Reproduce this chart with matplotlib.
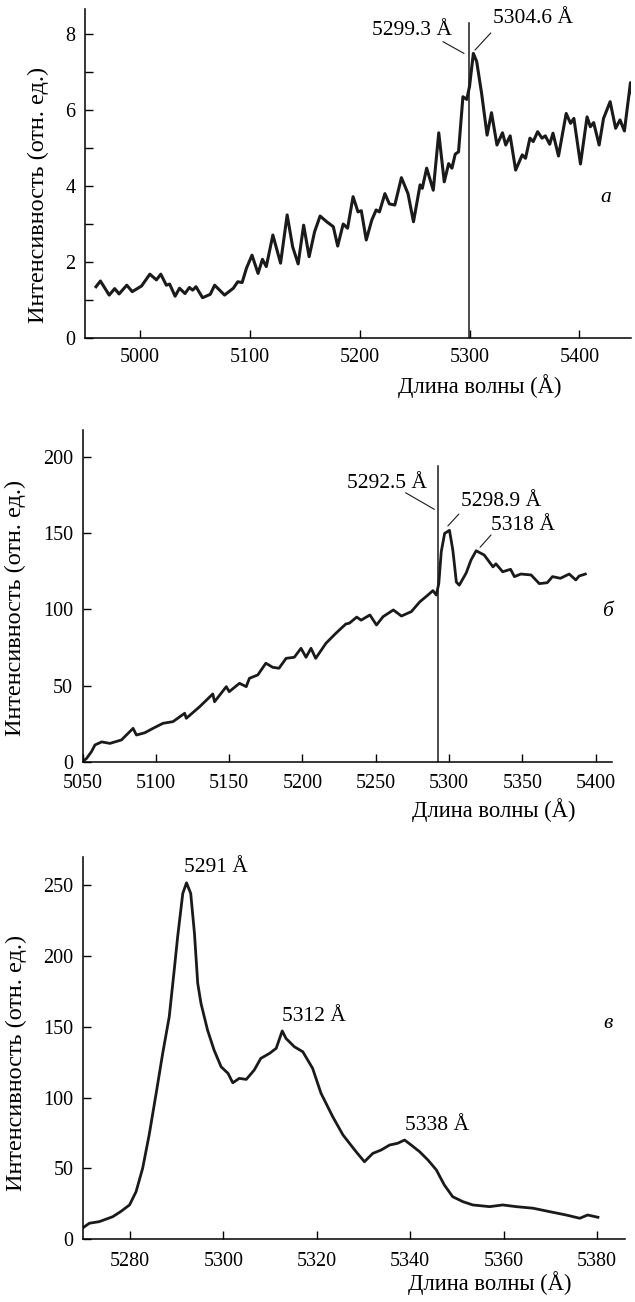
import matplotlib
matplotlib.use("Agg")
import matplotlib.pyplot as plt

plt.rcParams['font.family'] = ['Liberation Serif', 'DejaVu Serif']

# spectrum a
wl_a = [4960, 4964, 4972, 4977, 4981, 4988, 4993, 5001.5, 5009, 5015, 5019, 5024, 5027,
        5032, 5036, 5041, 5045, 5048, 5051, 5057, 5064, 5068, 5077, 5085, 5089, 5093,
        5097, 5102, 5107.5, 5111.5, 5115, 5121, 5128, 5134, 5139, 5144, 5149, 5154,
        5159, 5164, 5170, 5176, 5180, 5185, 5189, 5194, 5198.5, 5201.5, 5206, 5211,
        5215, 5218, 5223, 5227, 5232, 5238, 5244, 5249, 5255, 5257, 5261, 5267, 5272,
        5277, 5281, 5284, 5287, 5290, 5294, 5297.5, 5300, 5303.5, 5306.5, 5311, 5316,
        5320, 5325, 5330, 5333, 5337, 5342, 5348, 5351, 5355, 5358, 5362, 5366, 5369,
        5373, 5376, 5381, 5388, 5392, 5395, 5401, 5407, 5410, 5413, 5418, 5422, 5428,
        5433, 5437, 5441, 5446.5, 5449]
int_a = [1.35, 1.5, 1.13, 1.3, 1.16, 1.39, 1.22, 1.37, 1.68, 1.53, 1.68, 1.39, 1.42,
         1.1, 1.31, 1.17, 1.33, 1.26, 1.35, 1.06, 1.15, 1.39, 1.13, 1.31, 1.48, 1.46,
         1.84, 2.18, 1.7, 2.07, 1.88, 2.71, 1.97, 3.24, 2.4, 1.95, 2.97, 2.14,
         2.8, 3.21, 3.06, 2.93, 2.42, 3.0, 2.89, 3.72, 3.32, 3.35, 2.58, 3.1,
         3.37, 3.32, 3.8, 3.53, 3.5, 4.22, 3.8, 3.06, 4.03, 3.94, 4.47, 3.89, 5.4,
         4.11, 4.59, 4.47, 4.84, 4.9, 6.35, 6.28, 6.62, 7.49, 7.28, 6.44, 5.34,
         5.93, 5.08, 5.4, 5.08, 5.32, 4.42, 4.82, 4.73, 5.26, 5.17, 5.43, 5.26, 5.32,
         5.1, 5.39, 4.79, 5.91, 5.65, 5.78, 4.58, 5.82, 5.56, 5.67, 5.08, 5.78, 6.22,
         5.52, 5.74, 5.45, 6.72, 6.26]

# spectrum b
wl_b = [5050, 5052.7, 5056, 5058.4, 5063, 5068.6, 5076.5, 5084.4, 5086.7, 5092.4, 5098,
        5104.8, 5111.6, 5119.6, 5120.7, 5129.8, 5138.8, 5140, 5148, 5150, 5157, 5161.6,
        5163.8, 5169.5, 5175, 5179.7, 5184, 5188.8, 5194.4, 5199, 5202.4, 5205.8, 5209,
        5216, 5222.8, 5229.6, 5232, 5237, 5240, 5246, 5250.5, 5255, 5262, 5267.5,
        5274.3, 5280, 5285.6, 5289, 5291.3, 5293, 5294.7, 5297, 5300.3, 5302.6, 5305,
        5307, 5311.7, 5315, 5318.5, 5324, 5330, 5332, 5336.6, 5342, 5344.6, 5349, 5356,
        5361.6, 5367, 5370.6, 5376, 5382, 5386.5, 5388.8, 5393]
int_b = [0, 2.2, 6.6, 11, 13, 12, 14.3, 21.9, 17.5, 19, 21.9,
         25.2, 26.3, 31.8, 28.5, 36.1, 44.5, 39.4, 49.3, 46, 51.5, 49.3,
         54.8, 57, 64.7, 62, 61.4, 67.9, 68.6, 74.5, 68.6, 74.5, 67.9,
         77.8, 84.4, 90.5, 91, 95, 93, 96.4, 89.8, 95.3, 99.7, 95.7,
         98.6, 105, 109.5, 112.4, 109.5, 117, 138, 150, 152, 139, 118,
         116, 124, 132.5, 138.6, 135.8, 128, 130, 124.8, 126.4, 121.6, 123.3, 122.7,
         117, 117.6, 121.6, 120.5, 123.3, 119.4, 122, 123.3]

# spectrum c
wl_c = [5269.8, 5271.3, 5273.4, 5276.3, 5278, 5279.9, 5281.3, 5282.7, 5284.1, 5285.6,
        5287, 5288.4, 5289.5, 5290.2, 5291.3, 5292.1, 5293, 5293.8, 5294.5, 5295.2,
        5296.6, 5298, 5299.5, 5301, 5302, 5303.4, 5304.9, 5306.6, 5308, 5309.9, 5311.3,
        5312.6, 5313.4, 5315.2, 5317, 5319.1, 5320.9, 5323.4, 5325.6, 5327, 5328.4,
        5330.2, 5332, 5333.8, 5335.6, 5337.3, 5338.8, 5340.2, 5342, 5343.8, 5345.6,
        5347.3, 5349.1, 5351.3, 5353.4, 5357, 5359.8, 5362.7, 5366.3, 5369.8, 5373.4,
        5376.3, 5378, 5380.2]
int_c = [7.8, 11.3, 12.4, 15.9, 19.5, 24.2, 33.6, 50, 73.6, 103,
         131.2, 157, 191, 213.4, 244, 251.5, 244, 215.8, 180.5, 166.4,
         147.6, 133.5, 121.7, 117, 110.4, 113.5, 112.8, 119.4, 127.6, 131.2, 134.7,
         147, 141.7, 135.8, 132.3, 120.6, 103, 86.5, 73.6, 67.7, 61.8,
         54.7, 60.6, 63, 66.5, 67.7, 70, 66.5, 61.8, 55.9, 48.9,
         38.3, 30, 26.5, 24.2, 23, 24.2, 23, 21.9, 19.5, 17.1,
         14.8, 17.1, 15.5]

lines_a = [5299.3]
lines_b = [5292.5]
peaks_c = [5291, 5312, 5338]

xlabel = 'Длина волны (Å)'
ylabel = 'Интенсивность (отн. ед.)'
fs = 14.5       # tick labels
fs_ann = 15.5   # peak labels
fs_xl = 16.3
fs_yl = 17.5
ink = '#1a1a1a'

fig = plt.figure(figsize=(6.35, 13.02), dpi=100)
ax_a = fig.add_axes([0.1339, 0.7404, 0.8598, 0.2527])
ax_b = fig.add_axes([0.1302, 0.4150, 0.8331, 0.2548])
ax_c = fig.add_axes([0.1312, 0.0482, 0.8531, 0.2939])

for ax in (ax_a, ax_b, ax_c):
    for s in ('top', 'right'):
        ax.spines[s].set_visible(False)
    for s in ('left', 'bottom'):
        ax.spines[s].set_linewidth(1.1)
    ax.tick_params(direction='in', length=6, width=1.0, labelsize=fs, pad=7)
ax_b.tick_params(axis='x', pad=9)
ax_c.tick_params(axis='x', pad=9)


def leader(ax, start, end):
    ax.annotate('', xy=end, xytext=start,
                arrowprops=dict(arrowstyle='-', lw=0.8, color=ink, shrinkA=0, shrinkB=0))


# --- a ---
ax_a.plot(wl_a, int_a, color=ink, lw=2.2, solid_joinstyle='round')
ax_a.plot([lines_a[0], lines_a[0]], [0, 8.3], color=ink, lw=1.1)
ax_a.set_xlim(4950, 5447)
ax_a.set_ylim(0, 8.66)
ax_a.set_xticks([5000, 5100, 5200, 5300, 5400])
ax_a.set_yticks(range(0, 9))
ax_a.set_yticklabels(['0', '', '2', '', '4', '', '6', '', '8'])
ax_a.text(5247.5, 8.1, '5299.3 Å', ha='center', va='center', fontsize=fs_ann)
leader(ax_a, (5275.8, 7.8), (5295, 7.49))
ax_a.text(5358, 8.42, '5304.6 Å', ha='center', va='center', fontsize=fs_ann)
leader(ax_a, (5319.4, 8.03), (5305, 7.58))
ax_a.text(5423.7, 3.71, 'а', style='italic', fontsize=fs_ann, ha='center', va='center')
ax_a.text(0.7234, -0.146, xlabel, transform=ax_a.transAxes, ha='center', va='center', fontsize=fs_xl)
ax_a.text(-0.085, 0.435, ylabel, transform=ax_a.transAxes, ha='center', va='center',
          rotation=90, fontsize=fs_yl)

# --- b ---
ax_b.plot(wl_b, int_b, color=ink, lw=2.0, solid_joinstyle='round')
ax_b.plot([lines_b[0], lines_b[0]], [0, 194], color=ink, lw=1.1)
ax_b.set_xlim(5050, 5411)
ax_b.set_ylim(0, 218)
ax_b.set_xticks(range(5050, 5401, 50))
ax_b.set_yticks(range(0, 201, 50))
ax_b.text(5257.5, 183, '5292.5 Å', ha='center', va='center', fontsize=fs_ann)
leader(ax_b, (5270.4, 176.7), (5290, 165.8))
ax_b.text(5335.7, 170.8, '5298.9 Å', ha='center', va='center', fontsize=fs_ann)
leader(ax_b, (5306.7, 162.7), (5299.2, 154.9))
ax_b.text(5350.7, 154.9, '5318 Å', ha='center', va='center', fontsize=fs_ann)
leader(ax_b, (5328.7, 149), (5321.2, 140.9))
ax_b.text(5407.8, 98.6, 'б', style='italic', fontsize=fs_ann, ha='center', va='center')
ax_b.text(0.7766, -0.1456, xlabel, transform=ax_b.transAxes, ha='center', va='center', fontsize=fs_xl)
ax_b.text(-0.1265, 0.463, ylabel, transform=ax_b.transAxes, ha='center', va='center',
          rotation=90, fontsize=fs_yl)

# --- c ---
ax_c.plot(wl_c, int_c, color=ink, lw=2.0, solid_joinstyle='round')
ax_c.set_xlim(5270, 5386)
ax_c.set_ylim(0, 270)
ax_c.set_xticks(range(5280, 5381, 20))
ax_c.set_yticks(range(0, 251, 50))
ax_c.text(peaks_c[0] + 0.6, 262, f'{peaks_c[0]} Å', fontsize=fs_ann, ha='left', va='center')
ax_c.text(peaks_c[1] + 0.6, 157, f'{peaks_c[1]} Å', fontsize=fs_ann, ha='left', va='center')
ax_c.text(peaks_c[2] + 0.8, 80.6, f'{peaks_c[2]} Å', fontsize=fs_ann, ha='left', va='center')
ax_c.text(5382.3, 152.5, 'в', style='italic', fontsize=fs_ann, ha='center', va='center')
ax_c.text(0.751, -0.114, xlabel, transform=ax_c.transAxes, ha='center', va='center', fontsize=fs_xl)
ax_c.text(-0.124, 0.461, ylabel, transform=ax_c.transAxes, ha='center', va='center',
          rotation=90, fontsize=fs_yl)

fig.savefig('out.png', dpi=100)
